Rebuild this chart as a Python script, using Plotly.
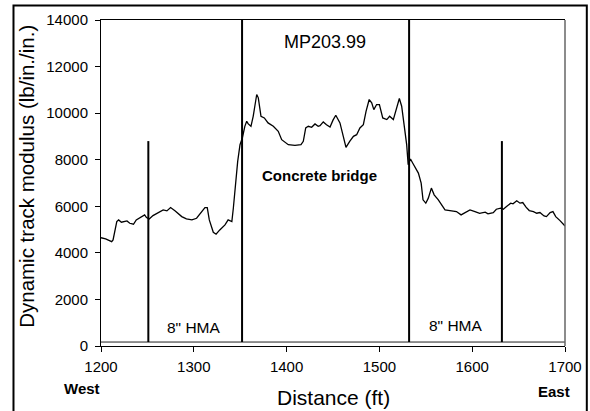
import plotly.graph_objects as go

# ---- data ----
distance_ft = [1200, 1205, 1211.5, 1213, 1217, 1219, 1222, 1228, 1231, 1235, 1238, 1244, 1247, 1249,
               1252, 1256, 1262, 1267, 1271, 1275, 1280, 1287, 1292, 1298, 1303, 1308.5, 1312, 1314.5,
               1316.7, 1321, 1324, 1328, 1333.6, 1337, 1341, 1342.6, 1344.4, 1347.3, 1349.8, 1352.3,
               1355, 1357, 1358.7, 1361.6, 1364, 1367.8, 1369.5, 1372.4, 1376, 1380, 1385.7, 1391,
               1394.7, 1397.5, 1401.8, 1409, 1415.5, 1418, 1420.6, 1423.4, 1427, 1430.6, 1434, 1436,
               1439.5, 1443, 1446.8, 1450, 1453, 1457.5, 1460.5, 1464, 1468, 1472, 1475.5, 1479,
               1482.7, 1485.6, 1489, 1491.7, 1494, 1497, 1500, 1503.6, 1508, 1511, 1515, 1518, 1521.5,
               1524, 1526.5, 1529.4, 1531, 1533.5, 1536, 1538, 1542, 1545, 1547, 1550, 1552.7, 1556,
               1559, 1563.5, 1567, 1570.7, 1576, 1583, 1588, 1592, 1597.6, 1603, 1608, 1614, 1617,
               1622.7, 1626, 1630.7, 1633.5, 1637, 1641.5, 1644, 1648, 1651.5, 1654.5, 1658, 1661.5,
               1666, 1669.5, 1673, 1677.4, 1680, 1684, 1687, 1690, 1694.6, 1700]
modulus = [4650, 4600, 4480, 4553, 5342, 5415, 5315, 5371, 5270, 5229, 5415, 5557, 5630, 5514,
           5458, 5600, 5745, 5845, 5802, 5945, 5802, 5557, 5458, 5415, 5486, 5773, 5945, 5945,
           5415, 4884, 4799, 4984, 5200, 5415, 5342, 5918, 6700, 7926, 8646, 8934,
           9434, 9649, 9537, 9434, 9865, 10800, 10657, 9865, 9795, 9580, 9434, 9219,
           8861, 8789, 8646, 8616, 8646, 8789, 9365, 9434, 9391, 9537, 9434, 9465,
           9623, 9500, 9400, 9700, 9908, 9580, 9076, 8530, 8789, 9003, 9076, 9365,
           9507, 10080, 10584, 10442, 10153, 10369, 10369, 9795, 9723, 9865, 9723, 10153, 10627,
           10296, 9507, 8646, 7785, 8030, 7850, 7711, 7426, 6996, 6277, 6134, 6350, 6780,
           6492, 6277, 6061, 5845, 5816, 5773, 5630, 5730, 5845, 5773, 5700, 5750, 5673,
           5730, 5874, 5918, 5874, 5989, 6134, 6104, 6234, 6134, 6162, 5962, 5816,
           5773, 5702, 5730, 5587, 5557, 5730, 5773, 5557, 5385, 5150]

boundary_x = [1251, 1352, 1532, 1632]
boundary_top = [8800, 14000, 14000, 8800]
ground_level = 170
x_ticks = [1200, 1300, 1400, 1500, 1600, 1700]
y_ticks = [0, 2000, 4000, 6000, 8000, 10000, 12000, 14000]
y_tick_labels = ["0", "2000", "4000", "6000", "8000", "10000", "12000", "14000"]

FONT = "Liberation Sans, Arial, sans-serif"

fig = go.Figure()

fig.add_trace(go.Scatter(x=distance_ft, y=modulus, mode="lines",
                         line=dict(color="black", width=1.3), showlegend=False))

# ground line
fig.add_trace(go.Scatter(x=[x_ticks[0], x_ticks[-1]], y=[ground_level, ground_level], mode="lines",
                         line=dict(color="#222222", width=1), showlegend=False))

for bx, bt in zip(boundary_x, boundary_top):
    fig.add_trace(go.Scatter(x=[bx, bx], y=[ground_level, bt], mode="lines",
                             line=dict(color="black", width=2), showlegend=False))

ann = [
    dict(x=1441, y=13050, text="MP203.99", size=18),
    dict(x=1435, y=7310, text="<b>Concrete bridge</b>", size=15),
    dict(x=1300, y=800, text='8" HMA', size=15.5),
    dict(x=1582, y=870, text='8" HMA', size=15.5),
]
for a in ann:
    fig.add_annotation(x=a["x"], y=a["y"], text=a["text"], showarrow=False,
                       xref="x", yref="y", font=dict(family=FONT, color="black", size=a["size"]))

# axis titles
fig.add_annotation(x=0.5, y=-0.1575, xref="paper", yref="paper", text="Distance (ft)",
                   showarrow=False, xanchor="center", yanchor="middle",
                   font=dict(family=FONT, size=21, color="black"))
fig.add_annotation(x=-0.1595, y=0.522, xref="paper", yref="paper",
                   text="Dynamic track modulus (lb/in./in.)", textangle=-90,
                   showarrow=False, xanchor="center", yanchor="middle",
                   font=dict(family=FONT, size=20.5, color="black"))

fig.add_annotation(x=-0.041, y=-0.130, xref="paper", yref="paper", text="<b>West</b>", showarrow=False,
                   xanchor="center", yanchor="middle", font=dict(family=FONT, size=15, color="black"))
fig.add_annotation(x=0.976, y=-0.139, xref="paper", yref="paper", text="<b>East</b>", showarrow=False,
                   xanchor="center", yanchor="middle", font=dict(family=FONT, size=15, color="black"))

# outer frame around the whole chart
fig.add_shape(type="rect", xref="paper", yref="paper", x0=-0.1886, x1=1.047, y0=-0.25, y1=1.0445,
              line=dict(color="black", width=2), layer="above")
# right edge of plot (grey)
fig.add_shape(type="line", xref="paper", yref="paper", x0=1, x1=1, y0=0, y1=1,
              line=dict(color="#666666", width=1.5))

fig.update_layout(
    width=590, height=411,
    margin=dict(l=101, r=25, t=20, b=65, autoexpand=False),
    paper_bgcolor="white", plot_bgcolor="white",
    font=dict(family=FONT, color="black"),
    showlegend=False,
)
fig.update_xaxes(range=[1200, 1700], tickvals=x_ticks, ticktext=[str(v) for v in x_ticks],
                 showgrid=False, zeroline=False, automargin=False,
                 showline=True, linecolor="black", linewidth=1, mirror=True,
                 ticks="outside", ticklen=5, tickcolor="black", ticklabelstandoff=2,
                 tickfont=dict(size=15, family=FONT))
fig.update_yaxes(range=[0, 14000], tickvals=y_ticks, ticktext=y_tick_labels,
                 showgrid=False, zeroline=False, automargin=False,
                 showline=True, linecolor="black", linewidth=1,
                 ticks="outside", ticklen=5, tickcolor="black", ticklabelstandoff=4,
                 tickfont=dict(size=15, family=FONT))

fig.write_html("out.html", config={"displayModeBar": False},
               post_script="document.body.style.margin='0px';")
